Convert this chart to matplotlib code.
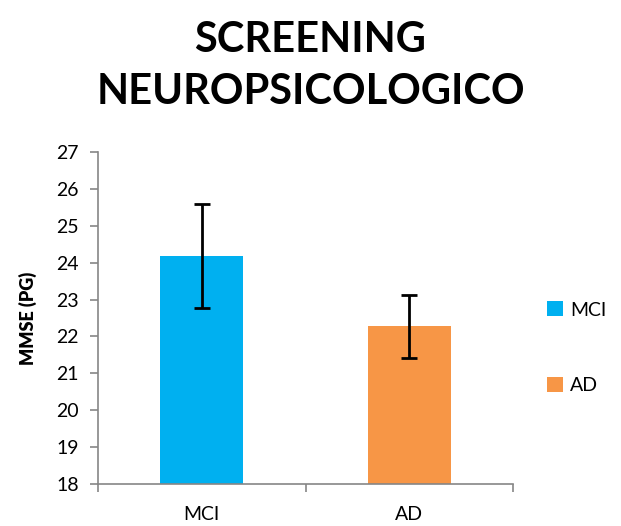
import matplotlib.pyplot as plt
import numpy as np

plt.rcParams['font.family'] = ['Lato', 'DejaVu Sans']

# datos
grupos = ['MCI', 'AD']
mmse = [24.18, 22.27]
errores = [1.4, 0.85]
colores = ['#00B0F0', '#F79646']

fig = plt.figure(figsize=(6.21, 5.26), dpi=100)
ax = fig.add_axes([0.158, 0.08, 0.668, 0.631])

x = np.arange(len(grupos))
barras = ax.bar(x, mmse, width=0.4, color=colores, label=grupos,
                yerr=errores, capsize=6,
                error_kw=dict(ecolor='black', elinewidth=2, capthick=2))

ax.set_xlim(-0.5, len(grupos) - 0.5)
ax.set_ylim(18, 27)
ax.set_yticks(range(18, 28))
ax.set_xticks(x)
ax.set_xticklabels(grupos)
# ticks entre categorias como en excel
ax.set_xticks(np.arange(-0.5, len(grupos), 1), minor=True)
ax.tick_params(axis='x', which='major', length=0, labelsize=14, pad=16)
ax.tick_params(axis='x', which='minor', length=6, color='#868686', width=1.2)
ax.tick_params(axis='y', labelsize=14, length=6, color='#868686', width=1.2, pad=8)

for lado in ['top', 'right']:
    ax.spines[lado].set_visible(False)
for lado in ['left', 'bottom']:
    ax.spines[lado].set_color('#868686')
    ax.spines[lado].set_linewidth(1.2)

ax.set_ylabel('MMSE (PG)', fontsize=13, fontweight='heavy', labelpad=14)

fig.text(0.5, 0.875, 'SCREENING\nNEUROPSICOLOGICO', ha='center', va='center',
         fontsize=30, fontweight='bold', linespacing=1.45)

leg = ax.legend(handles=barras.patches, labels=grupos, loc='center left',
                bbox_to_anchor=(1.04, 0.41), frameon=False, fontsize=14,
                handlelength=0.8, handleheight=0.8, labelspacing=3.0,
                handletextpad=0.4)

plt.savefig('out.png', dpi=100)
